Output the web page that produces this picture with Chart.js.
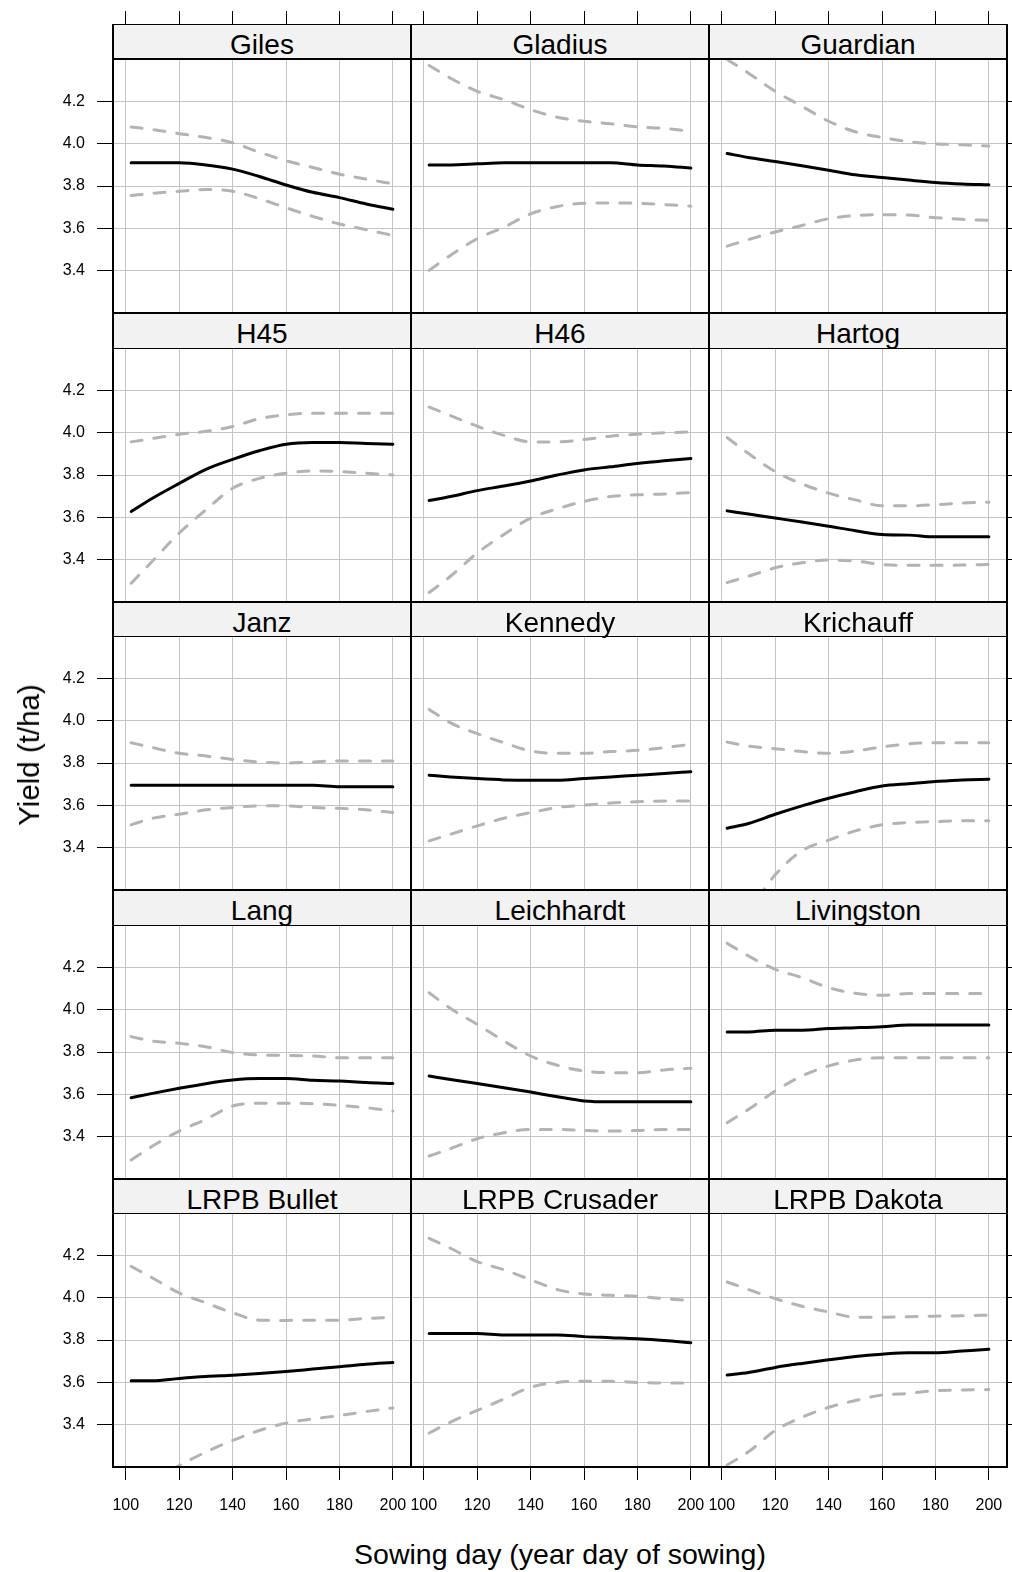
<!DOCTYPE html>
<html>
<head>
<meta charset="utf-8">
<script src="https://cdn.jsdelivr.net/npm/chart.js@4.4.1/dist/chart.umd.min.js"></script>
<style>
  body { margin: 0; background: #fff; }
  #wrap { position: relative; width: 1012px; height: 1572px; overflow: hidden;
          font-family: "Liberation Sans", Arial, sans-serif; color: #000; }
  .strip { position: absolute; box-sizing: border-box; background: #f2f2f2;
           border: 1px solid #000; border-left-width: 2px; border-right-width: 2px;
           text-align: center; font-size: 28px; padding-top: 4px; }
  canvas { position: absolute; }
  .title { position: absolute; font-size: 28.5px; white-space: nowrap; }
</style>
</head>
<body>
<div id="wrap"></div>
<script>
var varieties = ["Giles", "Gladius", "Guardian", "H45", "H46", "Hartog", "Janz", "Kennedy",
  "Krichauff", "Lang", "Leichhardt", "Livingston", "LRPB Bullet", "LRPB Crusader", "LRPB Dakota"];

var sowingDays = [102, 110, 120, 130, 140, 150, 160, 170, 180, 190, 200];
var xTickValues = [100, 120, 140, 160, 180, 200];
var yTickValues = [3.4, 3.6, 3.8, 4.0, 4.2];

// fitted yield (t/ha)
var fitted = [
  [3.91, 3.91, 3.91, 3.90, 3.88, 3.845, 3.805, 3.77, 3.745, 3.715, 3.69],
  [3.90, 3.90, 3.905, 3.91, 3.91, 3.91, 3.91, 3.91, 3.90, 3.895, 3.885],
  [3.954, 3.935, 3.916, 3.896, 3.875, 3.853, 3.84, 3.828, 3.817, 3.81, 3.806],
  [3.627, 3.69, 3.76, 3.827, 3.874, 3.915, 3.946, 3.954, 3.954, 3.949, 3.946],
  [3.679, 3.698, 3.726, 3.748, 3.772, 3.80, 3.824, 3.839, 3.855, 3.867, 3.878],
  [3.63, 3.615, 3.596, 3.577, 3.557, 3.536, 3.518, 3.515, 3.507, 3.507, 3.507],
  [3.695, 3.695, 3.695, 3.695, 3.695, 3.695, 3.695, 3.695, 3.688, 3.688, 3.688],
  [3.742, 3.734, 3.726, 3.72, 3.718, 3.718, 3.726, 3.734, 3.742, 3.75, 3.759],
  [3.491, 3.513, 3.557, 3.597, 3.633, 3.664, 3.691, 3.702, 3.712, 3.72, 3.723],
  [3.583, 3.604, 3.628, 3.65, 3.667, 3.674, 3.674, 3.666, 3.662, 3.655, 3.651],
  [3.686, 3.67, 3.651, 3.631, 3.61, 3.588, 3.568, 3.564, 3.564, 3.564, 3.564],
  [3.895, 3.895, 3.903, 3.903, 3.911, 3.915, 3.92, 3.928, 3.928, 3.928, 3.928],
  [3.607, 3.607, 3.618, 3.627, 3.633, 3.641, 3.651, 3.662, 3.673, 3.685, 3.693],
  [3.831, 3.831, 3.831, 3.824, 3.824, 3.824, 3.816, 3.811, 3.806, 3.798, 3.787],
  [3.634, 3.646, 3.67, 3.689, 3.706, 3.722, 3.733, 3.74, 3.74, 3.748, 3.756]
];

// upper confidence band
var upperCI = [
  [4.08, 4.068, 4.048, 4.03, 4.005, 3.96, 3.92, 3.888, 3.856, 3.833, 3.81],
  [4.371, 4.311, 4.249, 4.209, 4.162, 4.126, 4.107, 4.095, 4.08, 4.073, 4.06],
  [4.40, 4.335, 4.249, 4.178, 4.107, 4.057, 4.03, 4.01, 4.0, 3.995, 3.99],
  [3.957, 3.973, 3.993, 4.007, 4.03, 4.067, 4.085, 4.093, 4.093, 4.093, 4.093],
  [4.122, 4.082, 4.031, 3.988, 3.957, 3.957, 3.968, 3.984, 3.993, 4.0, 4.004],
  [3.977, 3.902, 3.816, 3.758, 3.714, 3.682, 3.654, 3.654, 3.659, 3.667, 3.671],
  [3.896, 3.873, 3.846, 3.833, 3.817, 3.805, 3.80, 3.805, 3.81, 3.81, 3.81],
  [4.054, 3.99, 3.939, 3.896, 3.857, 3.846, 3.846, 3.854, 3.86, 3.873, 3.888],
  [3.899, 3.88, 3.868, 3.854, 3.846, 3.857, 3.876, 3.891, 3.896, 3.896, 3.896],
  [3.873, 3.852, 3.841, 3.825, 3.797, 3.786, 3.784, 3.781, 3.773, 3.773, 3.773],
  [4.081, 4.006, 3.931, 3.852, 3.781, 3.737, 3.71, 3.702, 3.702, 3.715, 3.723],
  [4.315, 4.255, 4.192, 4.153, 4.105, 4.078, 4.069, 4.077, 4.077, 4.077, 4.077],
  [4.149, 4.094, 4.023, 3.976, 3.929, 3.894, 3.893, 3.894, 3.894, 3.902, 3.908],
  [4.282, 4.235, 4.172, 4.133, 4.086, 4.039, 4.018, 4.012, 4.007, 3.996, 3.987],
  [4.075, 4.039, 3.996, 3.96, 3.933, 3.908, 3.908, 3.91, 3.913, 3.915, 3.918]
];

// lower confidence band
var lowerCI = [
  [3.755, 3.765, 3.775, 3.783, 3.775, 3.74, 3.697, 3.656, 3.62, 3.593, 3.566],
  [3.40, 3.472, 3.55, 3.605, 3.668, 3.703, 3.718, 3.72, 3.718, 3.712, 3.704],
  [3.515, 3.546, 3.582, 3.613, 3.645, 3.66, 3.664, 3.662, 3.65, 3.642, 3.637],
  [3.287, 3.392, 3.525, 3.635, 3.737, 3.784, 3.808, 3.819, 3.816, 3.808, 3.80],
  [3.243, 3.32, 3.43, 3.518, 3.596, 3.64, 3.675, 3.698, 3.706, 3.71, 3.717],
  [3.29, 3.32, 3.36, 3.384, 3.397, 3.392, 3.376, 3.372, 3.372, 3.373, 3.376],
  [3.507, 3.538, 3.557, 3.578, 3.589, 3.597, 3.597, 3.589, 3.585, 3.578, 3.565],
  [3.431, 3.462, 3.502, 3.538, 3.565, 3.589, 3.60, 3.61, 3.616, 3.62, 3.62],
  [3.00, 3.10, 3.27, 3.384, 3.434, 3.478, 3.507, 3.518, 3.522, 3.526, 3.526],
  [3.288, 3.354, 3.425, 3.481, 3.544, 3.557, 3.557, 3.555, 3.547, 3.536, 3.52],
  [3.307, 3.342, 3.389, 3.417, 3.433, 3.433, 3.428, 3.425, 3.428, 3.433, 3.433],
  [3.465, 3.528, 3.615, 3.686, 3.734, 3.762, 3.773, 3.773, 3.773, 3.773, 3.773],
  [3.07, 3.13, 3.205, 3.269, 3.324, 3.371, 3.406, 3.426, 3.442, 3.461, 3.478],
  [3.359, 3.411, 3.466, 3.52, 3.576, 3.599, 3.604, 3.604, 3.599, 3.596, 3.596],
  [3.207, 3.27, 3.371, 3.434, 3.481, 3.513, 3.539, 3.547, 3.56, 3.563, 3.565]
];

var X_MIN = 95.2, X_MAX = 206.8;
var Y_MIN = 3.198, Y_MAX = 4.402;

var PANEL_W = 298, PANEL_H = 254, LEFT0 = 113;
var rowTop = [59, 348, 636, 925, 1213];
var stripTop = [24, 313, 602, 890, 1179];
var FONT = "'Liberation Sans', Arial, sans-serif";

var wrap = document.getElementById("wrap");

var framePlugin = {
  id: "frame",
  afterDraw: function(chart) {
    var a = chart.chartArea, ctx = chart.ctx;
    ctx.save();
    ctx.strokeStyle = "#000";
    ctx.lineWidth = 2;
    ctx.strokeRect(a.left, a.top, a.right - a.left, a.bottom - a.top);
    ctx.restore();
  }
};

function setTicks(vals) {
  return function(s) { s.ticks = vals.map(function(v) { return { value: v }; }); };
}
function fixH(h) {
  return function(s) { s.height = h; s.paddingLeft = 0; s.paddingRight = 0; };
}
function fixW(w) {
  return function(s) { s.width = w; s.paddingTop = 0; s.paddingBottom = 0; };
}
function pts(vals) {
  return sowingDays.map(function(d, k) { return { x: d, y: vals[k] }; });
}

varieties.forEach(function(name, i) {
  var r = Math.floor(i / 3), c = i % 3;
  var left = LEFT0 + c * PANEL_W;

  // strip
  var st = document.createElement("div");
  st.className = "strip";
  st.style.left = (left - 1) + "px";
  st.style.top = stripTop[r] + "px";
  st.style.width = (PANEL_W + 2) + "px";
  st.style.height = (rowTop[r] - stripTop[r] + 1) + "px";
  st.textContent = name;
  wrap.appendChild(st);

  var padL = c == 0 ? LEFT0 : 0;
  var padR = c == 2 ? 1012 - (left + PANEL_W) : 0;
  var padT = r == 0 ? rowTop[0] : 0;
  var padB = r == 4 ? 70 : 0;

  var cv = document.createElement("canvas");
  cv.width = PANEL_W + padL + padR;
  cv.height = PANEL_H + padT + padB;
  cv.style.left = (left - padL) + "px";
  cv.style.top = (rowTop[r] - padT) + "px";
  cv.style.width = cv.width + "px";
  cv.style.height = cv.height + "px";
  wrap.appendChild(cv);

  var gridCol = "#c4c4c4";
  var scales = {
    x: {
      type: "linear", position: "bottom", min: X_MIN, max: X_MAX,
      afterBuildTicks: setTicks(xTickValues), afterFit: fixH(padB),
      ticks: { display: r == 4, color: "#000", padding: 16, maxRotation: 0, autoSkip: false,
               font: { family: FONT, size: 16 }, callback: function(v) { return String(v); } },
      grid: { color: gridCol, lineWidth: 1, drawTicks: r == 4, tickLength: 13, tickColor: "#000", tickWidth: 1 },
      border: { display: false }
    },
    y: {
      type: "linear", position: "left", min: Y_MIN, max: Y_MAX,
      afterBuildTicks: setTicks(yTickValues), afterFit: fixW(padL),
      ticks: { display: c == 0, color: "#000", padding: 12, autoSkip: false,
               font: { family: FONT, size: 16 }, callback: function(v) { return v.toFixed(1); } },
      grid: { color: gridCol, lineWidth: 1, drawTicks: c == 0, tickLength: 16, tickColor: "#000", tickWidth: 1 },
      border: { display: false }
    }
  };
  if (c == 2) {
    scales.yRight = {
      type: "linear", position: "right", min: Y_MIN, max: Y_MAX,
      afterBuildTicks: setTicks(yTickValues), afterFit: fixW(padR),
      ticks: { display: false },
      grid: { drawOnChartArea: false, drawTicks: true, tickLength: 8, tickColor: "#000", tickWidth: 1 },
      border: { display: false }
    };
  }
  if (r == 0) {
    scales.xTop = {
      type: "linear", position: "top", weight: 2, min: X_MIN, max: X_MAX,
      afterBuildTicks: setTicks(xTickValues), afterFit: fixH(13),
      ticks: { display: false },
      grid: { drawOnChartArea: false, drawTicks: true, tickLength: 13, tickColor: "#000", tickWidth: 1 },
      border: { display: false }
    };
    scales.xStrip = {
      type: "linear", position: "top", weight: 1, min: X_MIN, max: X_MAX,
      afterFit: fixH(rowTop[0] - stripTop[0]),
      ticks: { display: false }, grid: { display: false }, border: { display: false }
    };
  }

  var common = { pointRadius: 0, borderWidth: 3, fill: false, clip: 0,
                 borderCapStyle: "round", borderJoinStyle: "round", cubicInterpolationMode: "monotone" };

  new Chart(cv.getContext("2d"), {
    type: "line",
    data: {
      datasets: [
        Object.assign({ label: "lower", data: pts(lowerCI[i]), borderColor: "#b3b3b3", borderDash: [11, 12] }, common),
        Object.assign({ label: "upper", data: pts(upperCI[i]), borderColor: "#b3b3b3", borderDash: [11, 12] }, common),
        Object.assign({ label: "fitted", data: pts(fitted[i]), borderColor: "#000" }, common)
      ]
    },
    options: {
      responsive: false,
      animation: false,
      layout: { padding: { top: r == 0 ? stripTop[0] - 13 : 0, left: 0, right: 0, bottom: 0 } },
      plugins: { legend: { display: false }, tooltip: { enabled: false } },
      scales: scales
    },
    plugins: [framePlugin]
  });
});

var xt = document.createElement("div");
xt.className = "title";
xt.textContent = "Sowing day (year day of sowing)";
xt.style.left = "560px";
xt.style.top = "1554px";
xt.style.transform = "translate(-50%, -50%)";
wrap.appendChild(xt);

var yt = document.createElement("div");
yt.className = "title";
yt.textContent = "Yield (t/ha)";
yt.style.fontSize = "29.5px";
yt.style.left = "29px";
yt.style.top = "755px";
yt.style.transform = "translate(-50%, -50%) rotate(-90deg)";
wrap.appendChild(yt);
</script>
</body>
</html>
